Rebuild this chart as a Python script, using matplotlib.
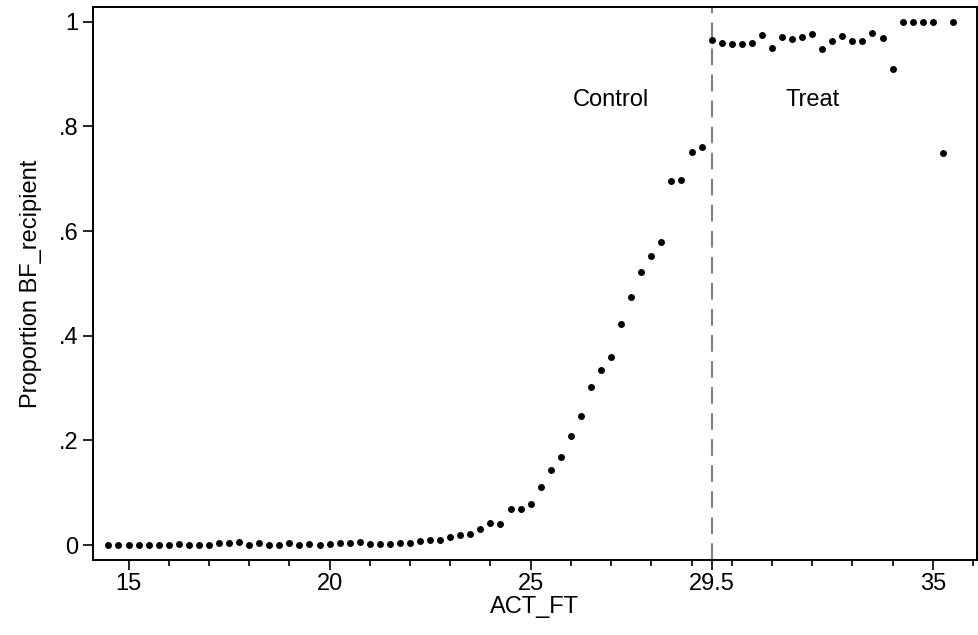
import numpy as np
import matplotlib.pyplot as plt
from matplotlib.ticker import FixedLocator, FixedFormatter

plt.rcParams['font.family'] = ['Liberation Sans', 'DejaVu Sans']

# ACT_FT bins, quarter-point steps
act_control = np.arange(14.5, 29.26, 0.25)
act_treat = np.arange(29.5, 35.51, 0.25)

prop_control = [
    0.000, 0.000, 0.000, 0.001, 0.000, 0.001, 0.001, 0.0025, 0.000, 0.001,
    0.001, 0.003, 0.004, 0.005, 0.001, 0.004, 0.001, 0.000, 0.003, 0.001,
    0.002, 0.001, 0.002, 0.004, 0.004, 0.005, 0.002, 0.002, 0.002, 0.004,
    0.004, 0.007, 0.009, 0.010, 0.015, 0.019, 0.021, 0.030, 0.0415, 0.040,
    0.068, 0.069, 0.078, 0.111, 0.143, 0.169, 0.208, 0.246, 0.3025, 0.335,
    0.360, 0.423, 0.474, 0.521, 0.553, 0.580, 0.695, 0.698, 0.752, 0.760,
]
prop_treat = [
    0.965, 0.960, 0.957, 0.958, 0.959, 0.974, 0.950, 0.971, 0.967, 0.971,
    0.977, 0.947, 0.964, 0.973, 0.964, 0.9625, 0.979, 0.968, 0.909, 1.000,
    1.000, 1.000, 1.000, 0.750, 1.000,
]

cutoff = 29.5
xticks = [15, 20, 25, 29.5, 35]
xticklabels = ['15', '20', '25', '29.5', '35']
yticks = [0, 0.2, 0.4, 0.6, 0.8, 1.0]
yticklabels = ['0', '.2', '.4', '.6', '.8', '1']

fs = 17

fig = plt.figure(figsize=(9.79, 6.35), dpi=100)
ax = fig.add_axes([0.0947, 0.118, 0.9033, 0.8714])

ax.plot(act_control, prop_control, 'o', color='black', markersize=5, markeredgewidth=0)
ax.plot(act_treat, prop_treat, 'o', color='black', markersize=5, markeredgewidth=0)
ax.axvline(cutoff, color='#808080', linestyle=(0, (8, 4.5)), linewidth=1.5, zorder=1)

ax.text(27.0, 0.85, 'Control', fontsize=fs, ha='center', va='center')
ax.text(32.0, 0.85, 'Treat', fontsize=fs, ha='center', va='center')

ax.set_xlim(14.11, 36.1)
ax.set_ylim(-0.0287, 1.0287)

ax.xaxis.set_major_locator(FixedLocator(xticks))
ax.xaxis.set_major_formatter(FixedFormatter(xticklabels))
ax.xaxis.set_minor_locator(FixedLocator([v for v in range(15, 37) if v not in xticks]))
ax.set_yticks(yticks)
ax.set_yticklabels(yticklabels)

ax.tick_params(axis='both', which='major', direction='out', length=7, width=1.2,
               labelsize=fs, color='black')
ax.tick_params(axis='x', which='major', pad=2)
ax.tick_params(axis='x', which='minor', direction='out', length=4, width=1.2)

for s in ax.spines.values():
    s.set_linewidth(1.4)

ax.set_xlabel('ACT_FT', fontsize=fs, labelpad=1)
ax.set_ylabel('Proportion BF_recipient', fontsize=fs, labelpad=12)

plt.savefig('out.png', dpi=100)
